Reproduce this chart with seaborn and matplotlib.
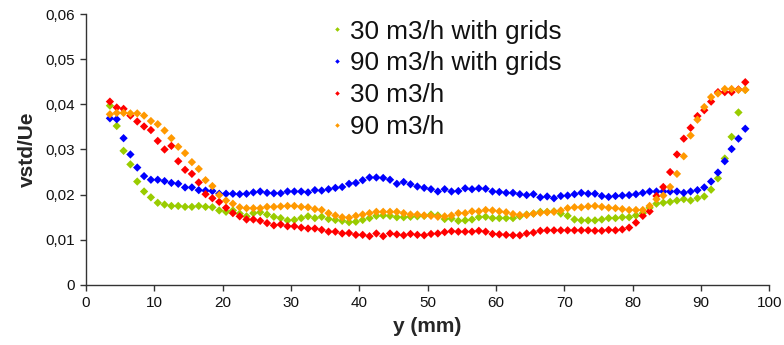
import numpy as np
import pandas as pd
import matplotlib
matplotlib.use("Agg")
import matplotlib.pyplot as plt
import seaborn as sns
from matplotlib.ticker import FuncFormatter, MultipleLocator

# Measurement positions across the channel (mm)
y_mm = np.arange(3.5, 97.0, 1.0)

series_names = ["30 m3/h with grids", "90 m3/h with grids", "30 m3/h", "90 m3/h"]
series_colors = ["#99CC00", "#0000FF", "#FF0000", "#FF9900"]

grid30 = [
    0.0397, 0.0352, 0.0297, 0.0267, 0.0229, 0.0207, 0.0194, 0.0182, 0.0178, 0.0175,
    0.0175, 0.0173, 0.0173, 0.0175, 0.0173, 0.0172, 0.0165, 0.0162, 0.0165, 0.0158,
    0.0152, 0.0159, 0.0161, 0.0156, 0.0151, 0.0148, 0.0143, 0.0144, 0.0148, 0.0152,
    0.0148, 0.0151, 0.0146, 0.0144, 0.0142, 0.0139, 0.0140, 0.0144, 0.0148, 0.0153,
    0.0154, 0.0153, 0.0150, 0.0150, 0.0151, 0.0152, 0.0153, 0.0156, 0.0154, 0.0146,
    0.0147, 0.0142, 0.0143, 0.0145, 0.0150, 0.0151, 0.0148, 0.0148, 0.0148, 0.0148,
    0.0152, 0.0156, 0.0158, 0.0162, 0.0162, 0.0163, 0.0158, 0.0153, 0.0145, 0.0143,
    0.0143, 0.0143, 0.0145, 0.0148, 0.0148, 0.0150, 0.0150, 0.0154, 0.0159, 0.0171,
    0.0180, 0.0182, 0.0184, 0.0187, 0.0190, 0.0187, 0.0192, 0.0196, 0.0211, 0.0236,
    0.0280, 0.0328, 0.0382, 0.0432,
]
grid90 = [
    0.0369, 0.0367, 0.0325, 0.0289, 0.0260, 0.0241, 0.0233, 0.0233, 0.0230, 0.0226,
    0.0224, 0.0216, 0.0216, 0.0210, 0.0209, 0.0208, 0.0202, 0.0202, 0.0202, 0.0201,
    0.0202, 0.0205, 0.0207, 0.0204, 0.0203, 0.0203, 0.0207, 0.0207, 0.0207, 0.0205,
    0.0210, 0.0209, 0.0212, 0.0215, 0.0217, 0.0224, 0.0226, 0.0232, 0.0238, 0.0238,
    0.0237, 0.0233, 0.0224, 0.0228, 0.0223, 0.0218, 0.0215, 0.0212, 0.0207, 0.0212,
    0.0207, 0.0208, 0.0214, 0.0212, 0.0214, 0.0213, 0.0207, 0.0206, 0.0204, 0.0204,
    0.0201, 0.0199, 0.0201, 0.0194, 0.0196, 0.0192, 0.0197, 0.0198, 0.0201, 0.0204,
    0.0202, 0.0202, 0.0197, 0.0195, 0.0197, 0.0198, 0.0199, 0.0201, 0.0204, 0.0207,
    0.0207, 0.0207, 0.0207, 0.0207, 0.0204, 0.0207, 0.0210, 0.0216, 0.0229, 0.0249,
    0.0274, 0.0301, 0.0324, 0.0346,
]
open30 = [
    0.0406, 0.0393, 0.0390, 0.0375, 0.0362, 0.0351, 0.0343, 0.0319, 0.0300, 0.0308,
    0.0274, 0.0255, 0.0246, 0.0227, 0.0201, 0.0192, 0.0184, 0.0171, 0.0159, 0.0152,
    0.0145, 0.0145, 0.0142, 0.0137, 0.0132, 0.0134, 0.0130, 0.0130, 0.0127, 0.0125,
    0.0125, 0.0122, 0.0118, 0.0118, 0.0114, 0.0115, 0.0111, 0.0111, 0.0108, 0.0114,
    0.0108, 0.0114, 0.0112, 0.0110, 0.0113, 0.0111, 0.0110, 0.0113, 0.0114, 0.0117,
    0.0119, 0.0118, 0.0118, 0.0118, 0.0120, 0.0118, 0.0113, 0.0112, 0.0111, 0.0110,
    0.0110, 0.0114, 0.0116, 0.0120, 0.0121, 0.0121, 0.0121, 0.0121, 0.0121, 0.0121,
    0.0121, 0.0120, 0.0120, 0.0122, 0.0121, 0.0123, 0.0127, 0.0138, 0.0153, 0.0163,
    0.0197, 0.0217, 0.0250, 0.0289, 0.0324, 0.0348, 0.0374, 0.0387, 0.0406, 0.0427,
    0.0427, 0.0427, 0.0433, 0.0449,
]
open90 = [
    0.0378, 0.0381, 0.0381, 0.0380, 0.0380, 0.0375, 0.0363, 0.0356, 0.0342, 0.0325,
    0.0306, 0.0292, 0.0272, 0.0257, 0.0232, 0.0219, 0.0199, 0.0187, 0.0180, 0.0172,
    0.0170, 0.0170, 0.0170, 0.0173, 0.0173, 0.0174, 0.0175, 0.0175, 0.0173, 0.0172,
    0.0168, 0.0166, 0.0159, 0.0154, 0.0150, 0.0149, 0.0153, 0.0156, 0.0159, 0.0162,
    0.0162, 0.0162, 0.0162, 0.0159, 0.0156, 0.0156, 0.0154, 0.0153, 0.0151, 0.0152,
    0.0154, 0.0159, 0.0159, 0.0163, 0.0163, 0.0166, 0.0165, 0.0163, 0.0161, 0.0157,
    0.0155, 0.0155, 0.0158, 0.0160, 0.0161, 0.0162, 0.0165, 0.0170, 0.0172, 0.0172,
    0.0174, 0.0175, 0.0173, 0.0171, 0.0170, 0.0168, 0.0166, 0.0166, 0.0166, 0.0175,
    0.0190, 0.0198, 0.0217, 0.0246, 0.0285, 0.0331, 0.0366, 0.0394, 0.0416, 0.0424,
    0.0434, 0.0434, 0.0432, 0.0432,
]

frames = []
for name, vals in zip(series_names, [grid30, grid90, open30, open90]):
    frames.append(pd.DataFrame({"y (mm)": y_mm, "vstd/Ue": vals, "case": name}))
df = pd.concat(frames, ignore_index=True)

sns.set_style("white")
plt.rcParams["font.family"] = ["Liberation Sans", "DejaVu Sans"]

fig = plt.figure(figsize=(7.84, 3.45), dpi=100)
ax = fig.add_axes([0.1097, 0.174, 0.8714, 0.7854])

sns.scatterplot(
    data=df, x="y (mm)", y="vstd/Ue", hue="case",
    hue_order=series_names, palette=series_colors,
    marker="D", s=18, linewidth=0, ax=ax,
)

ax.set_xlim(0, 100)
ax.set_ylim(0, 0.06)
ax.xaxis.set_major_locator(MultipleLocator(10))
ax.yaxis.set_major_locator(MultipleLocator(0.01))
ax.yaxis.set_major_formatter(
    FuncFormatter(lambda v, pos: "0" if abs(v) < 1e-9 else f"{v:.2f}".replace(".", ","))
)

for side in ("top", "right"):
    ax.spines[side].set_visible(False)
for side in ("left", "bottom"):
    ax.spines[side].set_color("#333333")
    ax.spines[side].set_linewidth(1.0)

ax.tick_params(axis="both", which="major", direction="out", length=4, width=1,
               color="#333333", labelsize=11, labelcolor="#111111", pad=4,
               left=True, bottom=True)

ax.set_xlabel("y (mm)", fontsize=15, fontweight="bold", labelpad=5)
ax.set_ylabel("vstd/Ue", fontsize=15, fontweight="bold", labelpad=6)

leg = ax.legend(loc="upper left", bbox_to_anchor=(0.3426, 1.018), frameon=False,
                fontsize=18.8, markerscale=0.55, handlelength=0.5,
                handletextpad=0.25, labelspacing=0.3, borderaxespad=0)
for txt in leg.get_texts():
    txt.set_color("#111111")

fig.savefig("out.png", dpi=100)
